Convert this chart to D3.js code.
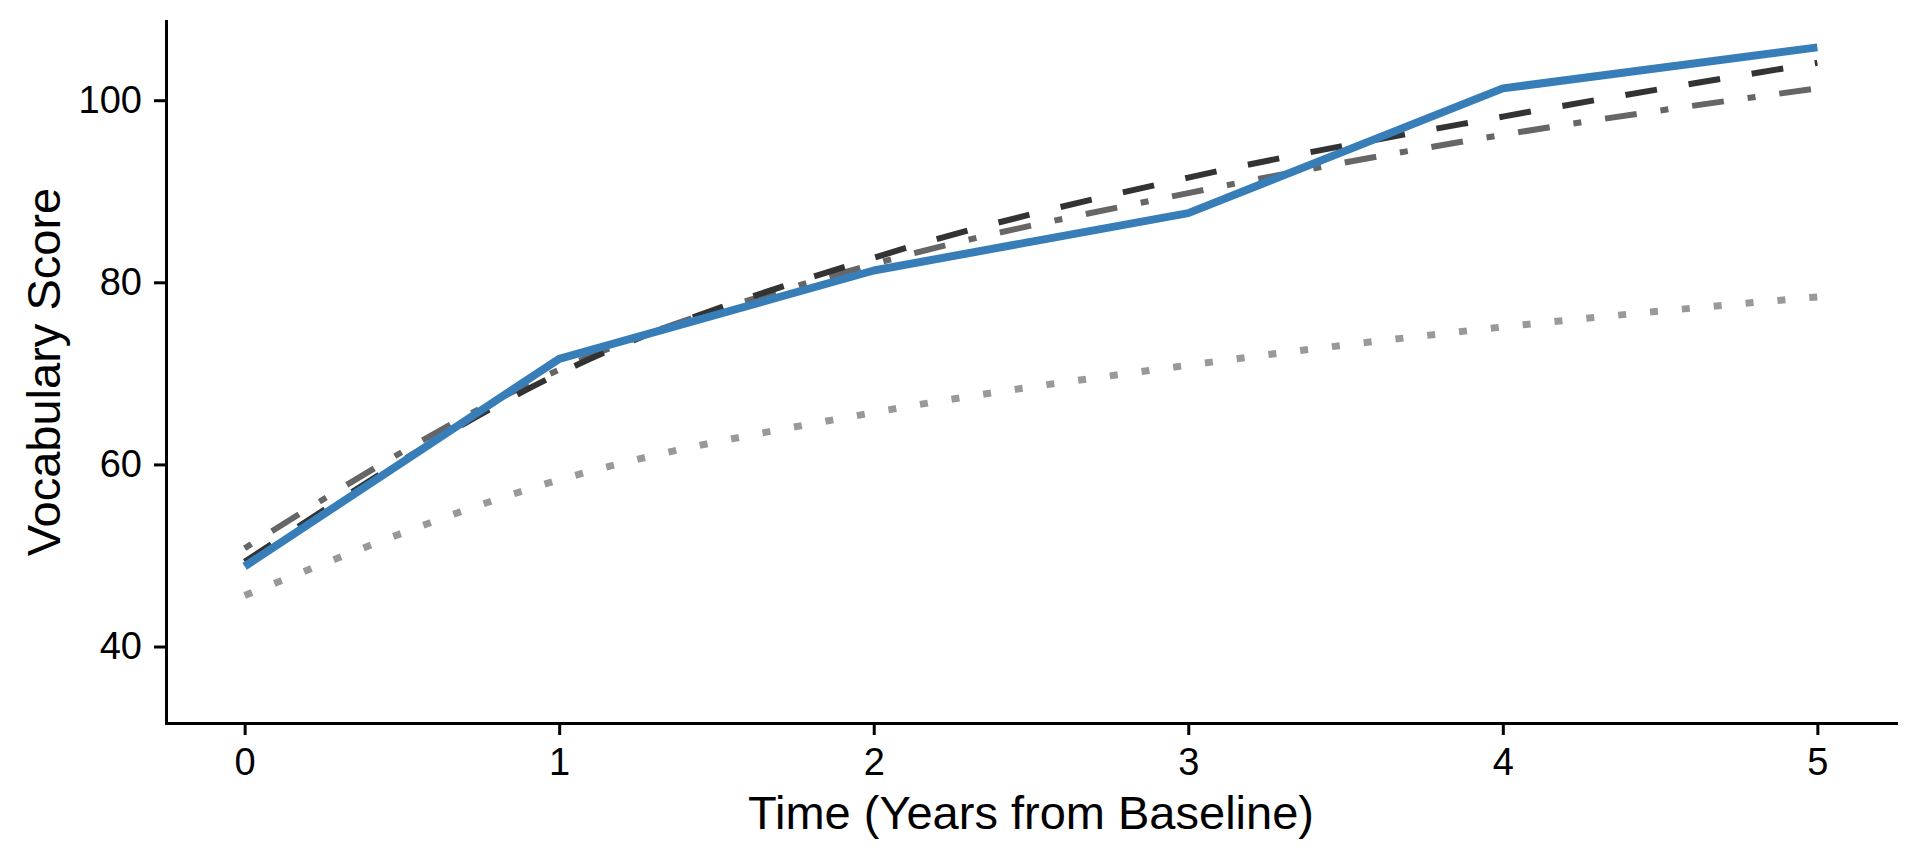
<!DOCTYPE html>
<html>
<head>
<meta charset="utf-8">
<script src="https://cdn.jsdelivr.net/npm/d3@7"></script>
<style>
  body { margin: 0; background: #fff; }
  svg text { font-family: "Liberation Sans", Arial, sans-serif; fill: #000; }
</style>
</head>
<body>
<svg id="chart" width="1920" height="864"></svg>
<script>
// years from baseline
const years = [0, 1, 2, 3, 4, 5];
const yTicks = [40, 60, 80, 100];

// observed mean (blue) and three model-implied trajectories
const observed = [48.8, 71.6, 81.3, 87.6, 101.3, 105.8];
const modelDashed = [49.3, 70.0, 82.7, 91.5, 98.2, 104.1];
const modelDashDot = [50.8, 70.4, 82.0, 89.8, 96.2, 101.3];
const modelDotted = [45.6, 58.3, 65.7, 70.9, 75.1, 78.4];

const svg = d3.select("#chart");

const x = d3.scaleLinear().domain([-0.25, 5.25]).range([166, 1896]);
const y = d3.scaleLinear().domain([31.6, 108.7]).range([723, 21]);

// lines
const series = [
  { values: modelDotted, color: "#999999", width: 7, dash: "8,24", curve: d3.curveMonotoneX },
  { values: modelDashDot, color: "#666666", width: 6, dash: "8,24,32,24", curve: d3.curveMonotoneX },
  { values: modelDashed, color: "#333333", width: 6, dash: "32,32", curve: d3.curveMonotoneX },
  { values: observed, color: "#377EB8", width: 8, dash: null, curve: d3.curveLinear }
];

series.forEach(s => {
  const line = d3.line()
    .x((d, i) => x(years[i]))
    .y(d => y(d))
    .curve(s.curve);
  svg.append("path")
    .datum(s.values)
    .attr("d", line)
    .attr("fill", "none")
    .attr("stroke", s.color)
    .attr("stroke-width", s.width)
    .attr("stroke-dasharray", s.dash)
    .attr("stroke-linejoin", "round")
    .attr("stroke-linecap", "butt");
});

// axes
const xAxis = svg.append("g")
  .attr("transform", "translate(0,723)")
  .call(d3.axisBottom(x).tickValues(years).tickFormat(d3.format("d")).tickSize(12).tickSizeOuter(0).tickPadding(13));

const yAxis = svg.append("g")
  .attr("transform", "translate(166,0)")
  .call(d3.axisLeft(y).tickValues(yTicks).tickSize(12).tickSizeOuter(0).tickPadding(12));

[xAxis, yAxis].forEach(g => {
  g.select(".domain").attr("stroke", "#000").attr("stroke-width", 3).attr("stroke-linecap", "square");
  g.selectAll(".tick line").attr("stroke", "#000").attr("stroke-width", 3);
  g.selectAll(".tick text").attr("font-size", 38).attr("fill", "#000");
});

// axis titles
svg.append("text")
  .attr("x", 1031)
  .attr("y", 829)
  .attr("text-anchor", "middle")
  .attr("font-size", 47)
  .text("Time (Years from Baseline)");

svg.append("text")
  .attr("transform", "translate(60,372) rotate(-90)")
  .attr("text-anchor", "middle")
  .attr("font-size", 47)
  .text("Vocabulary Score");
</script>
</body>
</html>
